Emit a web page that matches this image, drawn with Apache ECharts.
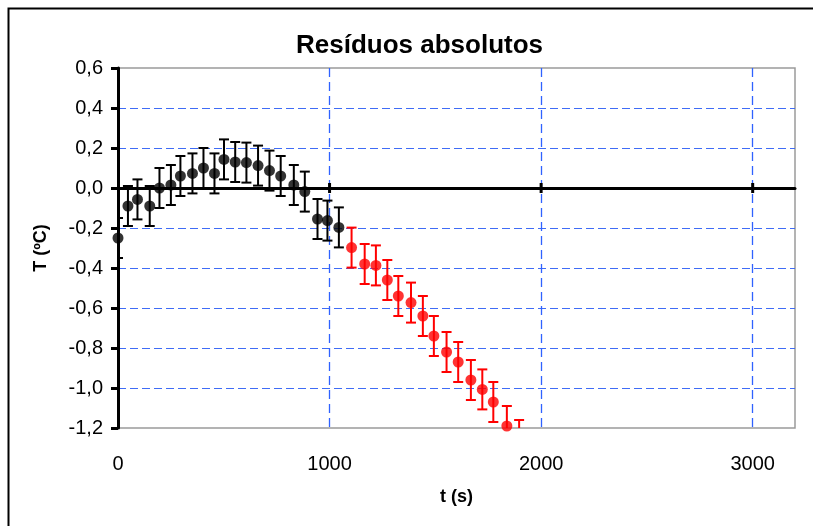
<!DOCTYPE html>
<html>
<head>
<meta charset="utf-8">
<script src="https://cdn.jsdelivr.net/npm/echarts@6/dist/echarts.min.js"></script>
<style>
html,body{margin:0;padding:0;background:#fff;}
#chart{width:813px;height:526px;}
</style>
</head>
<body>
<div id="chart"></div>
<script>
// Data
var title = 'Resíduos absolutos';
var xName = 't (s)';
var yName = 'T (ºC)';
var tBlack = [0, 47, 92, 150, 196, 250, 295, 352, 404, 456, 501, 554, 607, 662, 716, 769, 831, 883, 943, 990, 1044];
var yBlack = [-0.25, -0.09, -0.057, -0.09, 0.0, 0.015, 0.06, 0.073, 0.10, 0.073, 0.143, 0.13, 0.127, 0.112, 0.087, 0.06, 0.015, -0.018, -0.155, -0.163, -0.197];
var tRed = [1104, 1166, 1219, 1273, 1325, 1385, 1441, 1493, 1553, 1608, 1668, 1722, 1774, 1838, 1896];
var yRed = [-0.298, -0.38, -0.387, -0.46, -0.54, -0.573, -0.64, -0.74, -0.82, -0.87, -0.96, -1.007, -1.07, -1.19, -1.26];
var errBar = 0.1;
var xTicks = [0, 1000, 2000, 3000];
var zeroAxisTicks = [1000, 2000, 3000];

function pts(t, y) { return t.map(function (v, i) { return [v, y[i], errBar]; }); }
var blackData = pts(tBlack, yBlack);
var redData = pts(tRed, yRed);

function errRender(color) {
  return function (params, api) {
    var x = api.value(0), y = api.value(1), e = api.value(2);
    var top = api.coord([x, y + e]);
    var bot = api.coord([x, y - e]);
    var hw = 5;
    var style = { stroke: color, lineWidth: 2, fill: null };
    return {
      type: 'group',
      children: [
        { type: 'line', shape: { x1: top[0], y1: top[1], x2: bot[0], y2: bot[1] }, style: style },
        { type: 'line', shape: { x1: top[0] - hw, y1: top[1], x2: top[0] + hw, y2: top[1] }, style: style },
        { type: 'line', shape: { x1: bot[0] - hw, y1: bot[1], x2: bot[0] + hw, y2: bot[1] }, style: style }
      ]
    };
  };
}

function zeroTickRender(params, api) {
  var p = api.coord([api.value(0), 0]);
  return { type: 'line', shape: { x1: p[0], y1: p[1] - 5, x2: p[0], y2: p[1] + 5 },
    style: { stroke: '#000', lineWidth: 3 } };
}

var font = '"Liberation Sans", Arial, sans-serif';
var chart = echarts.init(document.getElementById('chart'), null, { renderer: 'canvas' });
function gridLine() {
  return { show: true, showMinLine: false, showMaxLine: false, lineStyle: { color: '#3f6cf6', type: [8, 4], width: 1 } };
}
chart.setOption({
  animation: false,
  backgroundColor: '#fff',
  graphic: [{
    type: 'rect', left: 6, top: 6, shape: { width: 900, height: 600 },
    style: { fill: null, stroke: '#000', lineWidth: 2 }, z: -1
  }],
  title: {
    text: title, left: 291, top: 28,
    textStyle: { fontFamily: font, fontWeight: 'bold', fontSize: 26, color: '#000' }
  },
  grid: { left: 118, top: 68, right: 18, bottom: 98, show: true, borderColor: '#9a9a9a', borderWidth: 1.5, backgroundColor: '#fff' },
  xAxis: [{
    type: 'value', min: 0, max: 3200, interval: 1000, position: 'bottom',
    axisLine: { onZero: false, show: false },
    axisTick: { show: false },
    splitLine: { show: true, showMinLine: false, showMaxLine: false, lineStyle: { color: '#2f62ff', type: [9, 5], width: 1.3 } },
    axisLabel: { margin: 26, fontFamily: font, fontSize: 20, color: '#000', showMaxLabel: false,
      formatter: function (v) { return xTicks.indexOf(v) >= 0 ? String(v) : ''; } },
    name: xName, nameLocation: 'middle', nameGap: 60,
    nameTextStyle: { fontFamily: font, fontWeight: 'bold', fontSize: 18, color: '#000' }
  }, {
    type: 'value', min: 0, max: 3200, interval: 1000, position: 'bottom',
    axisLine: { onZero: true, lineStyle: { color: '#000', width: 3 } },
    axisTick: { show: false },
    axisLabel: { show: false }, splitLine: { show: false }
  }],
  yAxis: {
    type: 'value', min: -1.2, max: 0.6, interval: 0.2,
    axisLine: { onZero: false, show: true, lineStyle: { color: '#000', width: 3 } },
    axisTick: { show: true, length: 7, lineStyle: { color: '#000', width: 3 } },
    splitLine: gridLine(),
    axisLabel: { margin: 15, fontFamily: font, fontSize: 20, color: '#000',
      formatter: function (v) { return (Math.abs(v) < 1e-9 ? 0 : v).toFixed(1).replace('.', ','); } },
    name: yName, nameLocation: 'middle', nameGap: 68, nameRotate: 90,
    nameTextStyle: { fontFamily: font, fontWeight: 'bold', fontSize: 18, color: '#000' }
  },
  series: [
    { type: 'custom', xAxisIndex: 0, data: zeroAxisTicks.map(function (v) { return [v]; }),
      renderItem: zeroTickRender, clip: false, z: 2, silent: true },
    { type: 'custom', xAxisIndex: 0, data: blackData, renderItem: errRender('#000'), clip: true, z: 3 },
    { type: 'custom', xAxisIndex: 0, data: redData, renderItem: errRender('#ff0000'), clip: true, z: 3 },
    { type: 'scatter', xAxisIndex: 0, data: blackData, symbol: 'circle', symbolSize: 11, clip: true,
      itemStyle: { color: '#000' }, z: 4 },
    { type: 'scatter', xAxisIndex: 0, data: redData, symbol: 'circle', symbolSize: 11, clip: true,
      itemStyle: { color: '#ff0000' }, z: 4 }
  ]
});
</script>
</body>
</html>
